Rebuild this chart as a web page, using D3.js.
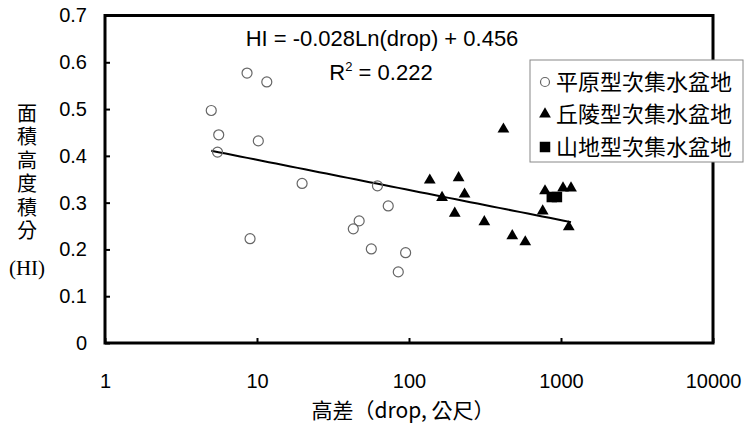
<!DOCTYPE html>
<html>
<head>
<meta charset="utf-8">
<script src="https://cdn.jsdelivr.net/npm/d3@7"></script>
<style>
  body { margin: 0; background: #fff; }
  text { font-family: "Liberation Sans", Arial, sans-serif; fill: #000; }
  .cjk { font-family: "Noto Sans CJK TC", "Noto Sans CJK SC", sans-serif; }
</style>
</head>
<body>
<div id="chart"></div>
<script>
// data
var plainDrop = [8.6, 11.6, 5.0, 5.6, 10.2, 5.5, 19.8, 62, 73, 47, 43, 9.0, 56.5, 95, 85];
var plainHI   = [0.577, 0.558, 0.497, 0.445, 0.432, 0.408, 0.341, 0.336, 0.293, 0.261, 0.244, 0.223, 0.201, 0.193, 0.152];

var hillDrop = [418, 137, 212, 232, 165, 200, 313, 478, 582, 758, 785, 1031, 1164, 1125];
var hillHI   = [0.457, 0.348, 0.353, 0.318, 0.311, 0.277, 0.259, 0.229, 0.216, 0.282, 0.325, 0.331, 0.331, 0.248];

var mountainDrop = [870, 940];
var mountainHI   = [0.312, 0.312];

var xTicks = [1, 10, 100, 1000, 10000];
var xTickLabels = ["1", "10", "100", "1000", "10000"];
var yTicks = [0, 0.1, 0.2, 0.3, 0.4, 0.5, 0.6, 0.7];
var yTickLabels = ["0", "0.1", "0.2", "0.3", "0.4", "0.5", "0.6", "0.7"];

var seriesNames = ["平原型次集水盆地", "丘陵型次集水盆地", "山地型次集水盆地"];

// trendline HI = a Ln(drop) + b
var trendA = -0.028, trendB = 0.456;

var width = 747, height = 431;
var plotLeft = 105, plotRight = 713, plotTop = 15.5, plotBottom = 343;

var svg = d3.select("#chart").append("svg")
    .attr("width", width)
    .attr("height", height);

var x = d3.scaleLog().domain([1, 10000]).range([plotLeft, plotRight]);
var y = d3.scaleLinear().domain([0, 0.7]).range([plotBottom, plotTop]);

// axes (ticks point inward)
var xAxis = svg.append("g")
    .attr("transform", "translate(0," + plotBottom + ")")
    .call(d3.axisBottom(x).tickValues(xTicks)
        .tickFormat(function(d, i) { return xTickLabels[i]; })
        .tickSize(-5).tickPadding(31));
var yAxis = svg.append("g")
    .attr("transform", "translate(" + plotLeft + ",0)")
    .call(d3.axisLeft(y).tickValues(yTicks)
        .tickFormat(function(d, i) { return yTickLabels[i]; })
        .tickSize(-5).tickPadding(18));
[xAxis, yAxis].forEach(function(g) {
    g.select(".domain").remove();
    g.selectAll(".tick line").attr("stroke", "#000").attr("stroke-width", 2);
    g.selectAll(".tick text").attr("font-size", 20)
        .style("font-family", "'Liberation Sans', Arial, sans-serif").attr("fill", "#000");
});

// plot frame
svg.append("rect")
    .attr("x", plotLeft).attr("y", plotTop)
    .attr("width", plotRight - plotLeft).attr("height", plotBottom - plotTop)
    .attr("fill", "none").attr("stroke", "#000").attr("stroke-width", 3);

// trendline
var allDrop = plainDrop.concat(hillDrop, mountainDrop);
var xmin = d3.min(allDrop), xmax = d3.max(allDrop);
var trend = d3.range(0, 51).map(function(i) {
    var v = Math.exp(Math.log(xmin) + (Math.log(xmax) - Math.log(xmin)) * i / 50);
    return [v, trendA * Math.log(v) + trendB];
});
svg.append("path")
    .datum(trend)
    .attr("fill", "none").attr("stroke", "#000").attr("stroke-width", 2)
    .attr("d", d3.line().x(function(d) { return x(d[0]); }).y(function(d) { return y(d[1]); }));

// points
svg.append("g").selectAll("circle")
    .data(d3.zip(plainDrop, plainHI))
    .enter().append("circle")
    .attr("cx", function(d) { return x(d[0]); })
    .attr("cy", function(d) { return y(d[1]); })
    .attr("r", 5)
    .attr("fill", "none").attr("stroke", "#666").attr("stroke-width", 1.2);

var tri = d3.symbol().type(d3.symbolTriangle).size(60);
svg.append("g").selectAll("path")
    .data(d3.zip(hillDrop, hillHI))
    .enter().append("path")
    .attr("d", tri)
    .attr("transform", function(d) { return "translate(" + x(d[0]) + "," + y(d[1]) + ")"; })
    .attr("fill", "#000");

var sq = d3.symbol().type(d3.symbolSquare).size(110);
svg.append("g").selectAll("path")
    .data(d3.zip(mountainDrop, mountainHI))
    .enter().append("path")
    .attr("d", sq)
    .attr("transform", function(d) { return "translate(" + x(d[0]) + "," + y(d[1]) + ")"; })
    .attr("fill", "#000");

// equation
svg.append("text")
    .attr("x", 382).attr("y", 46)
    .attr("text-anchor", "middle").attr("font-size", 22)
    .text("HI = -0.028Ln(drop) + 0.456");
var r2 = svg.append("text")
    .attr("x", 381).attr("y", 80)
    .attr("text-anchor", "middle").attr("font-size", 22);
r2.append("tspan").text("R");
r2.append("tspan").attr("font-size", 13).attr("dy", -9).text("2");
r2.append("tspan").attr("dy", 9).text(" = 0.222");

// legend
var lg = svg.append("g").attr("transform", "translate(530,60)");
lg.append("rect")
    .attr("width", 213).attr("height", 102)
    .attr("fill", "#fff").attr("stroke", "#888").attr("stroke-width", 1);
var rows = [22, 54, 87];
lg.append("circle").attr("cx", 15).attr("cy", rows[0]).attr("r", 4.5)
    .attr("fill", "none").attr("stroke", "#666").attr("stroke-width", 1.2);
lg.append("path").attr("d", tri).attr("transform", "translate(15," + rows[1] + ")").attr("fill", "#000");
lg.append("path").attr("d", sq).attr("transform", "translate(15," + rows[2] + ")").attr("fill", "#000");
lg.selectAll("text.leg")
    .data(seriesNames)
    .enter().append("text")
    .attr("class", "leg cjk")
    .attr("x", 26)
    .attr("y", function(d, i) { return rows[i]; })
    .attr("dy", "0.36em")
    .attr("font-size", 22)
    .attr("fill", "#222")
    .text(function(d) { return d; });

// x axis title
svg.append("text")
    .attr("class", "cjk")
    .attr("x", 403).attr("y", 418)
    .attr("text-anchor", "middle").attr("font-size", 21)
    .attr("fill", "#333")
    .text("高差（drop, 公尺）");

// y axis title, written top to bottom
svg.append("text")
    .attr("class", "cjk")
    .attr("x", 27).attr("y", 103)
    .attr("font-size", 20)
    .style("writing-mode", "vertical-rl")
    .style("letter-spacing", "3.5px")
    .text("面積高度積分");
svg.append("text")
    .attr("x", 27).attr("y", 267).attr("dy", "0.36em")
    .attr("text-anchor", "middle").attr("font-size", 21)
    .style("font-family", "'Liberation Serif', 'Times New Roman', serif")
    .text("(HI)");
</script>
</body>
</html>
